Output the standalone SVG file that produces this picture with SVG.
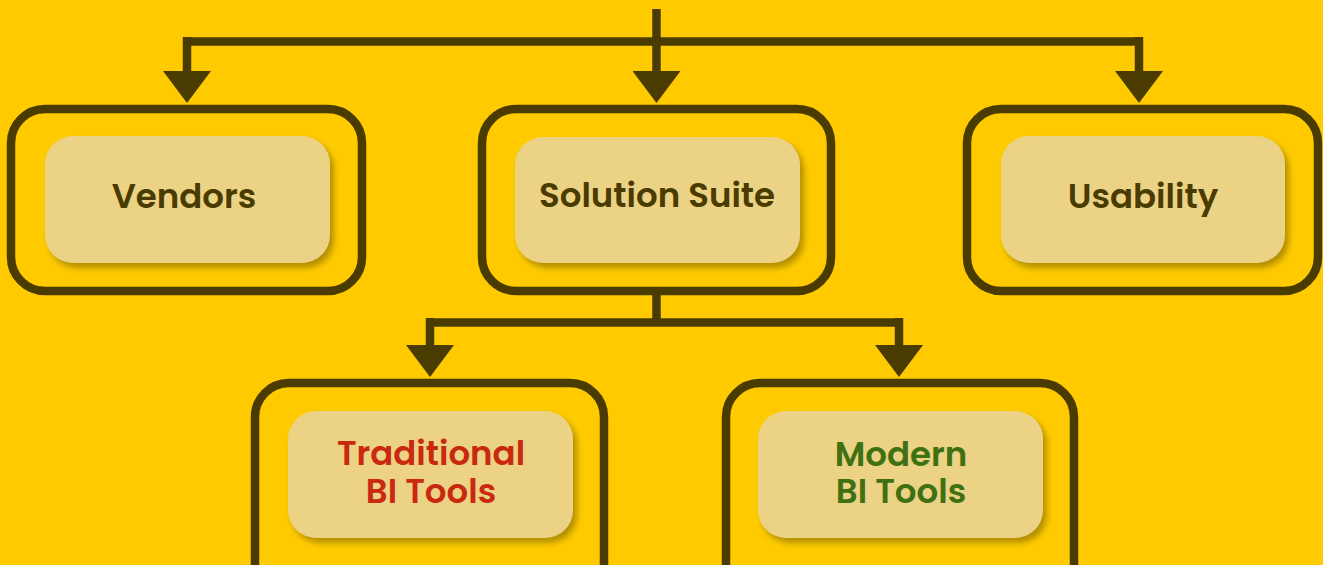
<svg xmlns="http://www.w3.org/2000/svg" width="1323" height="565" viewBox="0 0 1323 565">
<defs>
<marker id="arrow" viewBox="0 0 32 48" refX="0" refY="24" markerWidth="32" markerHeight="48" markerUnits="userSpaceOnUse" orient="auto">
<path d="M0,0 L32,24 L0,48 Z" fill="#4a3b00"/>
</marker>
<filter id="shadow" x="-10%" y="-10%" width="125%" height="130%">
<feDropShadow dx="4" dy="5" stdDeviation="3" flood-color="#9a7a00" flood-opacity="0.75"/>
</filter>
</defs>
<style>
.outer{fill:none;stroke:#4a3b00;stroke-width:8.5}
.inner{fill:#ebd285;filter:url(#shadow)}
.conn{fill:none;stroke:#4a3b00;stroke-width:8.5;marker-end:url(#arrow)}
.plain{fill:none;stroke:#4a3b00;stroke-width:8.5}
.lbl{font-family:"Poppins","Inter","Noto Sans",sans-serif;font-weight:600;font-size:34px;text-anchor:middle}
.dark{fill:#4a3b00}
.red{fill:#c9290f}
.green{fill:#3f7012}
</style>
<rect width="1323" height="565" fill="#ffcb00"/>
<g id="connectors">
<path class="plain" d="M656.5,9 V41.5"/>
<path class="plain" d="M183,41.5 H1143"/>
<path class="conn" d="M187,37 V71"/>
<path class="conn" d="M656.5,37 V71"/>
<path class="conn" d="M1139,37 V71"/>
<path class="plain" d="M656.5,293 V322.5"/>
<path class="plain" d="M426,322.5 H903"/>
<path class="conn" d="M430,318 V345"/>
<path class="conn" d="M899,318 V345"/>
</g>
<g id="vendors">
<rect class="outer" x="11" y="109" width="351" height="182" rx="34"/>
<rect class="inner" x="45" y="136" width="285" height="127" rx="28"/>
<text class="lbl dark" x="184" y="208">Vendors</text>
</g>
<g id="solution-suite">
<rect class="outer" x="482" y="109" width="349" height="182" rx="34"/>
<rect class="inner" x="515" y="137" width="285" height="126" rx="28"/>
<text class="lbl dark" x="657" y="207">Solution Suite</text>
</g>
<g id="usability">
<rect class="outer" x="967" y="109" width="351" height="182" rx="34"/>
<rect class="inner" x="1001" y="136" width="284" height="127" rx="28"/>
<text class="lbl dark" x="1143" y="208">Usability</text>
</g>
<g id="traditional-bi-tools">
<rect class="outer" x="255" y="383" width="349" height="220" rx="34"/>
<rect class="inner" x="288" y="411" width="285" height="127" rx="28"/>
<text class="lbl red" x="431" y="465">Traditional<tspan x="431" dy="38">BI Tools</tspan></text>
</g>
<g id="modern-bi-tools">
<rect class="outer" x="726" y="383" width="348" height="220" rx="34"/>
<rect class="inner" x="758" y="411" width="285" height="127" rx="28"/>
<text class="lbl green" x="901" y="466">Modern<tspan x="901" dy="37">BI Tools</tspan></text>
</g>
</svg>
